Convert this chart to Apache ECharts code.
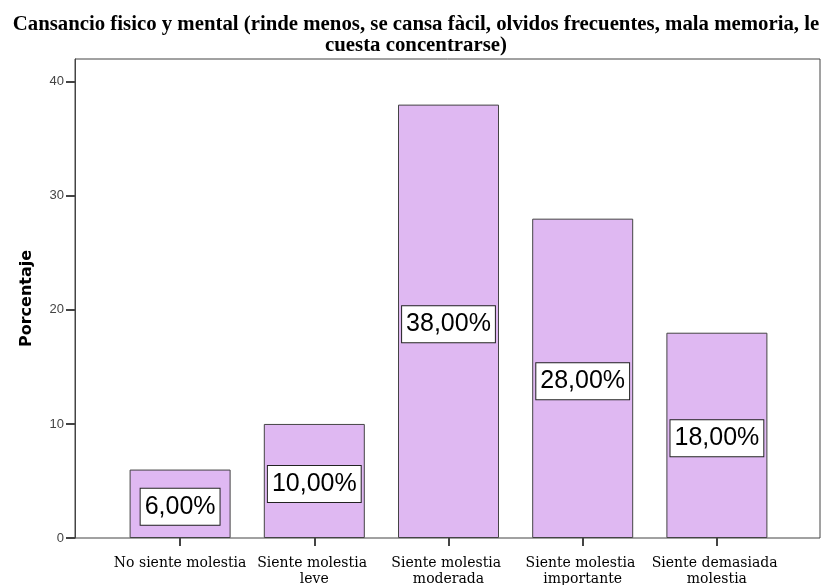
<!DOCTYPE html>
<html><head><meta charset="utf-8">
<script src="https://cdn.jsdelivr.net/npm/echarts@6/dist/echarts.min.js"></script>
<style>html,body{margin:0;padding:0;background:#fff}#c{width:821px;height:585px}</style>
</head><body><div id="c"></div>
<script>
const titleText = 'Cansancio fisico y mental (rinde menos, se cansa fàcil, olvidos frecuentes, mala memoria, le\ncuesta concentrarse)';
const categories = ['No siente molestia', 'Siente molestia leve', 'Siente molestia moderada', 'Siente molestia importante', 'Siente demasiada molestia'];
const values = [6, 10, 38, 28, 18];
const yTicks = [0, 10, 20, 30, 40];
const yName = 'Porcentaje';

const chart = echarts.init(document.getElementById('c'), null, {renderer: 'canvas'});
chart.setOption({
  animation: false,
  backgroundColor: '#fff',
  title: {
    text: titleText, left: 411, top: 9.5, textAlign: 'center',
    textStyle: {fontFamily: 'Liberation Serif', fontWeight: 'bold', fontSize: 20.8, color: '#000', lineHeight: 21}
  },
  grid: [
    {left: 75, right: 1, top: 59, bottom: 47, show: true, borderColor: '#444', borderWidth: 1,
     backgroundColor: 'transparent', outerBoundsMode: 'none', containLabel: false},
    {left: 113, right: 37, top: 59, bottom: 47, outerBoundsMode: 'none', containLabel: false}
  ],
  xAxis: [
    {type: 'category', gridIndex: 0, data: categories, show: false},
    {type: 'category', gridIndex: 1, data: categories,
     axisLine: {show: false},
     axisTick: {show: true, alignWithLabel: true, length: 8, lineStyle: {color: '#444', width: 2}},
     axisLabel: {interval: 0, margin: 17, color: '#000', fontFamily: 'DejaVu Serif', fontSize: 14, lineHeight: 16,
                 width: 134, overflow: 'break'}}
  ],
  yAxis: [
    {type: 'value', gridIndex: 0, min: 0, max: 42, interval: 10,
     name: yName, nameLocation: 'middle', nameGap: 40, nameRotate: 90,
     nameTextStyle: {fontFamily: 'DejaVu Sans', fontWeight: 'bold', fontSize: 16, color: '#000'},
     axisLine: {show: true, lineStyle: {color: '#444', width: 1}},
     axisTick: {show: true, length: 9, lineStyle: {color: '#444', width: 2}},
     splitLine: {show: false},
     axisLabel: {showMaxLabel: false, color: '#444', fontFamily: 'Liberation Sans', fontSize: 13, margin: 11,
                 formatter: v => yTicks.includes(v) ? String(v) : ''}},
    {type: 'value', gridIndex: 1, min: 0, max: 42, interval: 10, show: false, splitLine: {show: false}}
  ],
  series: [{
    type: 'bar', xAxisIndex: 1, yAxisIndex: 1, data: values, barWidth: 101,
    itemStyle: {color: '#dfb8f2', borderColor: '#444', borderWidth: 1},
    label: {
      show: true, position: 'inside', offset: [0, 3],
      formatter: p => p.value.toFixed(2).replace('.', ',') + '%',
      fontFamily: 'Liberation Sans', fontSize: 25, color: '#000', lineHeight: 29,
      backgroundColor: '#fff', borderColor: '#222', borderWidth: 1, padding: [4, 4, 3, 4]
    }
  }]
});
</script></body></html>
